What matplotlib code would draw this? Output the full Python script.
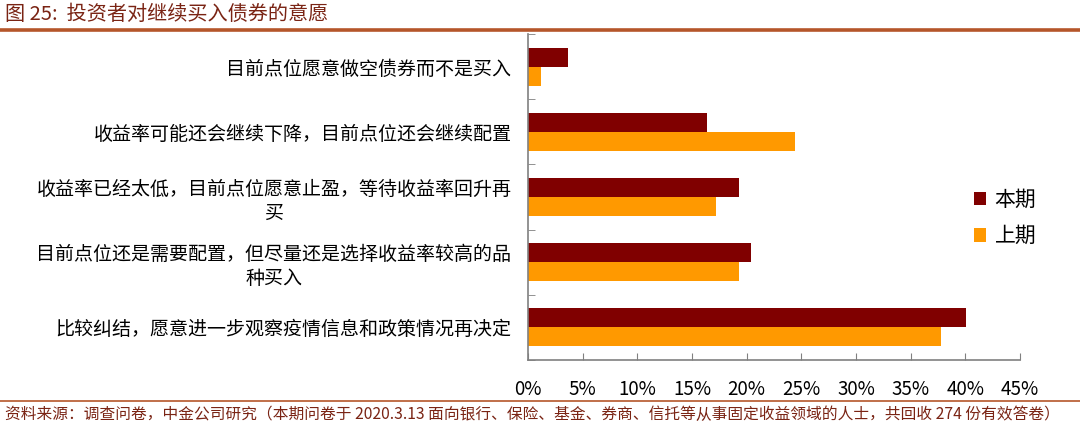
import matplotlib
matplotlib.use("Agg")
import matplotlib.pyplot as plt
from matplotlib.patches import Patch
from matplotlib.ticker import FixedLocator, PercentFormatter

plt.rcParams["font.family"] = ["Noto Sans CJK SC", "DejaVu Sans"]

# survey answers, top to bottom as drawn
categories = [
    "目前点位愿意做空债券而不是买入",
    "收益率可能还会继续下降，目前点位还会继续配置",
    "收益率已经太低，目前点位愿意止盈，等待收益率回升再\n买",
    "目前点位还是需要配置，但尽量还是选择收益率较高的品\n种买入",
    "比较纠结，愿意进一步观察疫情信息和政策情况再决定",
]
current = [3.7, 16.4, 19.3, 20.4, 40.1]   # 本期, %
previous = [1.2, 24.4, 17.2, 19.3, 37.8]  # 上期, %
series_names = ["本期", "上期"]
colors = ["#800000", "#FF9900"]
x_ticks = [0, 5, 10, 15, 20, 25, 30, 35, 40, 45]

title = "图 25:  投资者对继续买入债券的意愿"
source = ("资料来源：调查问卷，中金公司研究（本期问卷于 2020.3.13 面向银行、保险、基金、"
          "券商、信托等从事固定收益领域的人士，共回收 274 份有效答卷）")

W, H = 1080, 437
fig = plt.figure(figsize=(W / 100, H / 100), dpi=100)
ax = fig.add_axes([528 / W, 1 - 360 / H, (1020 - 528) / W, (360 - 34) / H])

bar_h = 0.29
ypos = list(range(len(categories)))
ax.barh([y - bar_h / 2 for y in ypos], current, height=bar_h, color=colors[0])
ax.barh([y + bar_h / 2 for y in ypos], previous, height=bar_h, color=colors[1])

ax.set_ylim(len(categories) - 0.5, -0.5)
ax.set_xlim(0, 45)
ax.set_yticks(ypos)
ax.set_yticklabels(categories, fontsize=13.7, multialignment="center")
ax.yaxis.set_minor_locator(FixedLocator([y - 0.5 for y in range(len(categories) + 1)]))
ax.tick_params(axis="y", which="major", length=0, pad=12)
ax.tick_params(axis="y", which="minor", direction="in", length=5, color="#808080")
ax.xaxis.set_major_locator(FixedLocator(x_ticks))
ax.xaxis.set_major_formatter(PercentFormatter(decimals=0))
ax.tick_params(axis="x", direction="in", length=5, color="#808080",
               labelsize=13.5, pad=14)

for side in ["top", "right"]:
    ax.spines[side].set_visible(False)
for side in ["left", "bottom"]:
    ax.spines[side].set_color("#808080")
    ax.spines[side].set_linewidth(1.2)

handles = [Patch(facecolor=c, edgecolor="none") for c in colors]
fig.legend(handles, series_names, loc="center left",
           bbox_to_anchor=(955 / W, 1 - 218 / H), frameon=False,
           fontsize=15, handlelength=0.6, handleheight=0.6,
           handletextpad=0.4, labelspacing=0.7)

# header / footer furniture
line_color = "#B5562A"
text_color = "#7A2414"
fig.add_artist(plt.Line2D([0, 1], [1 - 30 / H] * 2, color=line_color, lw=2.6,
                          transform=fig.transFigure))
fig.add_artist(plt.Line2D([0, 1], [1 - 401 / H] * 2, color=line_color, lw=1.2,
                          transform=fig.transFigure))
fig.text(5 / W, 1 - 14 / H, title, fontsize=14.5, color=text_color,
         ha="left", va="center")
fig.text(5 / W, 1 - 414 / H, source, fontsize=11.3, color=text_color,
         ha="left", va="center")

fig.savefig("out.png", dpi=100)
